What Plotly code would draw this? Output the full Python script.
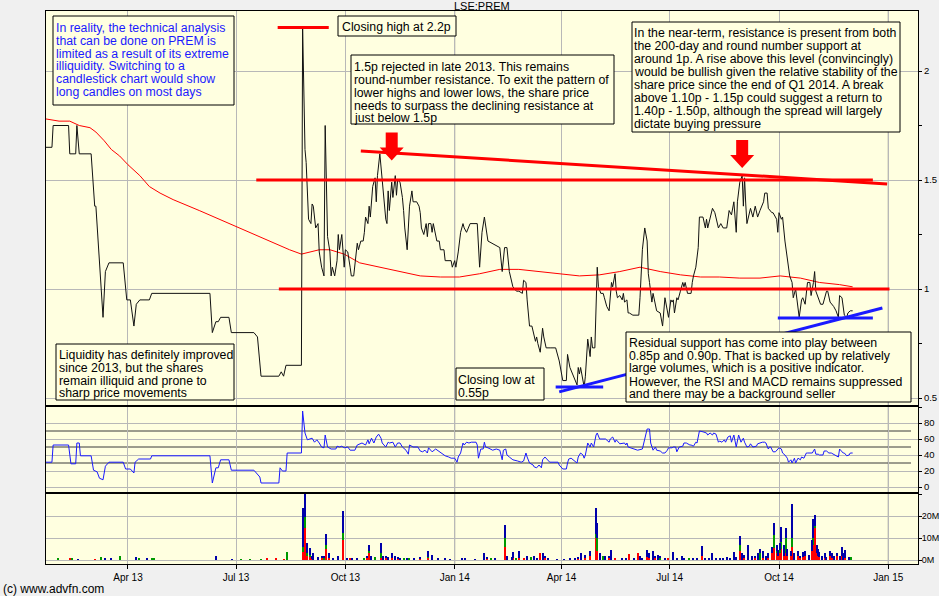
import plotly.graph_objects as go

# ---------------- data ----------------
price = [
    ("2013-01-22", 1.65), ("2013-01-27", 1.65), ("2013-01-28", 1.75), ("2013-02-10", 1.75), ("2013-02-11", 1.62),
    ("2013-02-16", 1.62), ("2013-02-17", 1.75), ("2013-02-19", 1.62), ("2013-03-01", 1.62), ("2013-03-04", 1.38),
    ("2013-03-05", 1.38), ("2013-03-09", 1.00), ("2013-03-11", 0.87), ("2013-03-13", 1.08), ("2013-03-16", 1.12),
    ("2013-03-28", 1.12), ("2013-03-31", 0.95), ("2013-04-03", 0.95), ("2013-04-06", 0.83), ("2013-04-08", 0.93),
    ("2013-04-11", 0.95), ("2013-04-19", 0.95), ("2013-04-21", 0.98), ("2013-06-09", 0.98), ("2013-06-11", 0.80),
    ("2013-06-14", 0.85), ("2013-06-16", 0.85), ("2013-06-18", 0.87), ("2013-06-25", 0.87), ("2013-06-27", 0.80),
    ("2013-07-16", 0.80), ("2013-07-19", 0.78), ("2013-07-22", 0.60), ("2013-08-06", 0.60), ("2013-08-08", 0.62),
    ("2013-08-10", 0.60), ("2013-08-12", 0.65), ("2013-08-25", 0.65), ("2013-08-26", 2.20), ("2013-08-28", 1.64),
    ("2013-08-29", 1.58), ("2013-08-31", 1.32), ("2013-09-02", 1.30), ("2013-09-03", 1.39), ("2013-09-04", 1.38),
    ("2013-09-06", 1.28), ("2013-09-08", 1.30), ("2013-09-09", 1.17), ("2013-09-11", 1.10), ("2013-09-13", 1.06),
    ("2013-09-14", 1.75), ("2013-09-16", 1.24), ("2013-09-18", 1.17), ("2013-09-19", 1.06), ("2013-09-20", 1.10),
    ("2013-09-22", 1.06), ("2013-09-24", 1.13), ("2013-09-25", 1.25), ("2013-09-26", 1.18), ("2013-09-28", 1.25),
    ("2013-09-29", 1.17), ("2013-09-30", 1.10), ("2013-10-01", 1.18), ("2013-10-03", 1.17), ("2013-10-05", 1.10),
    ("2013-10-06", 1.06), ("2013-10-08", 1.06), ("2013-10-10", 1.15), ("2013-10-11", 1.21), ("2013-10-12", 1.18),
    ("2013-10-14", 1.22), ("2013-10-16", 1.22), ("2013-10-17", 1.26), ("2013-10-18", 1.33), ("2013-10-20", 1.30),
    ("2013-10-21", 1.38), ("2013-10-22", 1.33), ("2013-10-24", 1.47), ("2013-10-26", 1.51), ("2013-10-27", 1.40),
    ("2013-10-28", 1.52), ("2013-10-30", 1.62), ("2013-10-31", 1.56), ("2013-11-01", 1.50), ("2013-11-02", 1.44),
    ("2013-11-04", 1.32), ("2013-11-05", 1.30), ("2013-11-06", 1.45), ("2013-11-07", 1.36), ("2013-11-09", 1.49),
    ("2013-11-10", 1.42), ("2013-11-12", 1.52), ("2013-11-13", 1.43), ("2013-11-14", 1.50), ("2013-11-16", 1.49),
    ("2013-11-18", 1.42), ("2013-11-19", 1.36), ("2013-11-20", 1.28), ("2013-11-22", 1.18), ("2013-11-23", 1.30),
    ("2013-11-24", 1.38), ("2013-11-26", 1.45), ("2013-11-27", 1.40), ("2013-11-30", 1.40), ("2013-12-02", 1.38),
    ("2013-12-03", 1.35), ("2013-12-04", 1.28), ("2013-12-06", 1.25), ("2013-12-08", 1.30), ("2013-12-09", 1.24),
    ("2013-12-10", 1.30), ("2013-12-12", 1.30), ("2013-12-13", 1.26), ("2013-12-14", 1.30), ("2013-12-16", 1.24),
    ("2013-12-17", 1.22), ("2013-12-19", 1.22), ("2013-12-20", 1.18), ("2013-12-23", 1.18), ("2013-12-24", 1.13),
    ("2013-12-29", 1.13), ("2013-12-30", 1.10), ("2014-01-01", 1.13), ("2014-01-02", 1.10), ("2014-01-04", 1.17),
    ("2014-01-06", 1.26), ("2014-01-08", 1.30), ("2014-01-09", 1.28), ("2014-01-11", 1.26), ("2014-01-14", 1.30),
    ("2014-01-20", 1.30), ("2014-01-22", 1.10), ("2014-01-24", 1.26), ("2014-01-26", 1.33), ("2014-01-29", 1.22),
    ("2014-02-01", 1.21), ("2014-02-05", 1.20), ("2014-02-08", 1.19), ("2014-02-10", 1.08), ("2014-02-12", 1.19),
    ("2014-02-14", 1.19), ("2014-02-16", 1.08), ("2014-02-19", 1.01), ("2014-02-22", 0.99), ("2014-02-24", 0.99),
    ("2014-02-27", 0.98), ("2014-02-28", 1.04), ("2014-03-02", 1.03), ("2014-03-03", 0.95), ("2014-03-04", 0.89),
    ("2014-03-05", 0.83), ("2014-03-07", 0.83), ("2014-03-09", 0.78), ("2014-03-10", 0.76), ("2014-03-11", 0.78),
    ("2014-03-12", 0.75), ("2014-03-14", 0.71), ("2014-03-15", 0.78), ("2014-03-16", 0.82), ("2014-03-17", 0.78),
    ("2014-03-19", 0.73), ("2014-03-23", 0.73), ("2014-03-27", 0.73), ("2014-03-30", 0.67), ("2014-03-31", 0.64),
    ("2014-04-02", 0.58), ("2014-04-05", 0.58), ("2014-04-06", 0.70), ("2014-04-08", 0.64), ("2014-04-10", 0.61),
    ("2014-04-12", 0.59), ("2014-04-14", 0.56), ("2014-04-15", 0.64), ("2014-04-16", 0.61), ("2014-04-17", 0.64),
    ("2014-04-19", 0.57), ("2014-04-20", 0.55), ("2014-04-21", 0.60), ("2014-04-22", 0.67), ("2014-04-23", 0.77),
    ("2014-04-25", 0.69), ("2014-04-26", 0.78), ("2014-04-27", 0.73), ("2014-04-29", 0.73), ("2014-05-01", 1.10),
    ("2014-05-02", 1.01), ("2014-05-04", 0.98), ("2014-05-06", 0.98), ("2014-05-07", 0.96), ("2014-05-09", 0.92),
    ("2014-05-11", 0.90), ("2014-05-12", 0.96), ("2014-05-13", 1.03), ("2014-05-14", 1.01), ("2014-05-16", 1.07),
    ("2014-05-17", 0.99), ("2014-05-18", 0.96), ("2014-05-20", 0.97), ("2014-05-22", 0.95), ("2014-05-23", 0.98),
    ("2014-05-24", 0.94), ("2014-05-26", 0.95), ("2014-05-27", 0.89), ("2014-05-28", 0.89), ("2014-05-31", 0.88),
    ("2014-06-05", 0.88), ("2014-06-06", 0.96), ("2014-06-08", 1.18), ("2014-06-10", 1.28), ("2014-06-12", 1.22),
    ("2014-06-13", 1.07), ("2014-06-14", 1.03), ("2014-06-16", 0.94), ("2014-06-17", 0.98), ("2014-06-19", 0.92),
    ("2014-06-20", 0.90), ("2014-06-23", 0.89), ("2014-06-24", 0.86), ("2014-06-25", 0.83), ("2014-06-27", 0.96),
    ("2014-06-29", 0.90), ("2014-06-30", 0.87), ("2014-07-02", 0.95), ("2014-07-03", 0.94), ("2014-07-04", 0.95),
    ("2014-07-05", 0.89), ("2014-07-07", 0.96), ("2014-07-08", 0.95), ("2014-07-10", 0.99), ("2014-07-12", 1.03),
    ("2014-07-13", 1.01), ("2014-07-14", 1.03), ("2014-07-16", 0.98), ("2014-07-19", 0.98), ("2014-07-20", 1.03),
    ("2014-07-21", 1.06), ("2014-07-23", 1.10), ("2014-07-25", 1.19), ("2014-07-26", 1.33), ("2014-07-29", 1.33),
    ("2014-07-31", 1.28), ("2014-08-01", 1.32), ("2014-08-02", 1.28), ("2014-08-06", 1.37), ("2014-08-08", 1.35),
    ("2014-08-11", 1.28), ("2014-08-13", 1.30), ("2014-08-15", 1.28), ("2014-08-18", 1.28), ("2014-08-20", 1.36),
    ("2014-08-22", 1.34), ("2014-08-24", 1.40), ("2014-08-26", 1.26), ("2014-08-27", 1.40), ("2014-08-29", 1.49),
    ("2014-08-31", 1.52), ("2014-09-01", 1.38), ("2014-09-02", 1.51), ("2014-09-03", 1.39), ("2014-09-04", 1.30),
    ("2014-09-07", 1.37), ("2014-09-09", 1.33), ("2014-09-11", 1.38), ("2014-09-13", 1.33), ("2014-09-15", 1.36),
    ("2014-09-18", 1.40), ("2014-09-19", 1.44), ("2014-09-21", 1.44), ("2014-09-22", 1.37), ("2014-09-25", 1.35),
    ("2014-09-26", 1.35), ("2014-09-29", 1.32), ("2014-09-30", 1.26), ("2014-10-01", 1.35), ("2014-10-03", 1.32),
    ("2014-10-04", 1.33), ("2014-10-06", 1.22), ("2014-10-08", 1.15), ("2014-10-10", 1.06), ("2014-10-12", 1.03),
    ("2014-10-13", 0.96), ("2014-10-15", 1.00), ("2014-10-16", 0.96), ("2014-10-18", 0.87), ("2014-10-20", 0.95),
    ("2014-10-21", 0.96), ("2014-10-23", 0.93), ("2014-10-25", 1.03), ("2014-10-27", 1.03), ("2014-10-28", 0.97),
    ("2014-10-30", 1.03), ("2014-10-31", 1.08), ("2014-11-01", 0.99), ("2014-11-03", 0.96), ("2014-11-05", 0.93),
    ("2014-11-07", 0.93), ("2014-11-10", 0.99), ("2014-11-11", 0.99), ("2014-11-13", 0.94), ("2014-11-16", 0.92),
    ("2014-11-18", 0.90), ("2014-11-20", 0.87), ("2014-11-21", 0.97), ("2014-11-23", 0.96), ("2014-11-25", 0.88),
    ("2014-11-27", 0.87), ("2014-11-28", 0.89), ("2014-11-30", 0.90), ("2014-12-02", 0.90),
]

sma_dates = ["2013-01-22", "2013-02-02", "2013-02-11", "2013-02-19", "2013-02-28", "2013-03-05", "2013-03-12",
             "2013-03-18", "2013-03-25", "2013-04-01", "2013-04-11", "2013-04-19", "2013-04-28", "2013-05-09",
             "2013-05-31", "2013-06-17", "2013-06-29", "2013-07-12", "2013-07-29", "2013-08-15", "2013-08-25",
             "2013-09-01", "2013-09-09", "2013-09-18", "2013-09-30", "2013-10-13", "2013-10-30", "2013-11-16",
             "2013-12-03", "2013-12-20", "2014-01-05", "2014-01-22", "2014-02-08", "2014-02-24", "2014-03-14",
             "2014-03-30", "2014-04-16", "2014-05-03", "2014-05-20", "2014-06-06", "2014-06-23", "2014-07-10",
             "2014-07-27", "2014-08-12", "2014-08-29", "2014-09-15", "2014-10-02", "2014-10-19", "2014-11-04",
             "2014-11-21", "2014-12-02"]
sma_values = [1.78, 1.77, 1.77, 1.75, 1.74, 1.72, 1.68, 1.64, 1.61, 1.57, 1.52, 1.47, 1.44, 1.41, 1.36, 1.32,
              1.29, 1.26, 1.22, 1.18, 1.16, 1.17, 1.18, 1.18, 1.16, 1.12, 1.10, 1.08, 1.06, 1.055, 1.055, 1.07,
              1.09, 1.09, 1.08, 1.07, 1.06, 1.065, 1.08, 1.10, 1.08, 1.065, 1.055, 1.055, 1.05, 1.05, 1.06, 1.05,
              1.03, 1.02, 1.01]

rsi = [
    ("2013-01-22", 31), ("2013-01-27", 31), ("2013-01-28", 52.5), ("2013-02-10", 52.5), ("2013-02-12", 29),
    ("2013-02-16", 29), ("2013-02-17", 55), ("2013-02-19", 55), ("2013-02-20", 39), ("2013-03-01", 39),
    ("2013-03-03", 21), ("2013-03-06", 19), ("2013-03-08", 11), ("2013-03-11", 9), ("2013-03-13", 26),
    ("2013-03-16", 31), ("2013-03-28", 31), ("2013-03-30", 22.5), ("2013-04-03", 22.5), ("2013-04-06", 17.5),
    ("2013-04-07", 31), ("2013-04-10", 35), ("2013-04-20", 35), ("2013-04-21", 39), ("2013-06-09", 39),
    ("2013-06-11", 5), ("2013-06-14", 24), ("2013-06-16", 24), ("2013-06-18", 34), ("2013-06-25", 34),
    ("2013-06-27", 21), ("2013-07-16", 21), ("2013-07-21", 12.5), ("2013-07-22", 5), ("2013-08-06", 5),
    ("2013-08-07", 24), ("2013-08-09", 20), ("2013-08-12", 20), ("2013-08-13", 42.5), ("2013-08-25", 42.5),
    ("2013-08-26", 95), ("2013-08-28", 67.5), ("2013-08-30", 59), ("2013-09-03", 61), ("2013-09-05", 56),
    ("2013-09-07", 59), ("2013-09-09", 55), ("2013-09-11", 50), ("2013-09-13", 49), ("2013-09-14", 65),
    ("2013-09-16", 50), ("2013-09-19", 47.5), ("2013-09-23", 47.5), ("2013-09-24", 51), ("2013-09-26", 50),
    ("2013-09-28", 51), ("2013-09-30", 49), ("2013-10-03", 50), ("2013-10-05", 46), ("2013-10-09", 46),
    ("2013-10-11", 52.5), ("2013-10-13", 54), ("2013-10-15", 55), ("2013-10-18", 52.5), ("2013-10-20", 59),
    ("2013-10-21", 54), ("2013-10-23", 61), ("2013-10-25", 55), ("2013-10-27", 62.5), ("2013-10-29", 66),
    ("2013-10-31", 61), ("2013-11-01", 55), ("2013-11-04", 50), ("2013-11-06", 56), ("2013-11-07", 55),
    ("2013-11-10", 56), ("2013-11-12", 50), ("2013-11-14", 55), ("2013-11-16", 55), ("2013-11-18", 50),
    ("2013-11-21", 46), ("2013-11-23", 41), ("2013-11-24", 52.5), ("2013-11-27", 50), ("2013-12-01", 50),
    ("2013-12-03", 45), ("2013-12-05", 44), ("2013-12-07", 46), ("2013-12-09", 42.5), ("2013-12-10", 49),
    ("2013-12-13", 44), ("2013-12-16", 47.5), ("2013-12-19", 44), ("2013-12-20", 42.5), ("2013-12-22", 41),
    ("2013-12-24", 39), ("2013-12-27", 37.5), ("2013-12-29", 36), ("2014-01-01", 36), ("2014-01-03", 31),
    ("2014-01-04", 37.5), ("2014-01-06", 42.5), ("2014-01-08", 55), ("2014-01-09", 52.5), ("2014-01-11", 56),
    ("2014-01-13", 55), ("2014-01-15", 56), ("2014-01-19", 56), ("2014-01-20", 52.5), ("2014-01-21", 36),
    ("2014-01-23", 47.5), ("2014-01-25", 47.5), ("2014-01-26", 56), ("2014-01-27", 50), ("2014-01-29", 49),
    ("2014-02-02", 46), ("2014-02-05", 47.5), ("2014-02-08", 46), ("2014-02-10", 34), ("2014-02-11", 46),
    ("2014-02-13", 47.5), ("2014-02-14", 40), ("2014-02-16", 37.5), ("2014-02-19", 34), ("2014-02-23", 32.5),
    ("2014-02-26", 31), ("2014-02-28", 32.5), ("2014-03-02", 42.5), ("2014-03-03", 37.5), ("2014-03-05", 30),
    ("2014-03-08", 27.5), ("2014-03-09", 25), ("2014-03-11", 24), ("2014-03-13", 27.5), ("2014-03-15", 24),
    ("2014-03-16", 34), ("2014-03-18", 37.5), ("2014-03-20", 34), ("2014-03-22", 31), ("2014-03-29", 31),
    ("2014-03-30", 27.5), ("2014-04-02", 22.5), ("2014-04-05", 22.5), ("2014-04-06", 30), ("2014-04-07", 35),
    ("2014-04-09", 36), ("2014-04-12", 32.5), ("2014-04-14", 30), ("2014-04-15", 37.5), ("2014-04-17", 42.5),
    ("2014-04-19", 40), ("2014-04-20", 36), ("2014-04-21", 40), ("2014-04-23", 55), ("2014-04-25", 50),
    ("2014-04-26", 55), ("2014-04-28", 50), ("2014-04-30", 65), ("2014-05-01", 67.5), ("2014-05-03", 60),
    ("2014-05-08", 60), ("2014-05-11", 56), ("2014-05-12", 60), ("2014-05-14", 62.5), ("2014-05-16", 56),
    ("2014-05-17", 59), ("2014-05-20", 54), ("2014-05-24", 55), ("2014-05-25", 52.5), ("2014-05-26", 55),
    ("2014-05-27", 50), ("2014-06-01", 47.5), ("2014-06-04", 46), ("2014-06-08", 47.5), ("2014-06-10", 60),
    ("2014-06-12", 72.5), ("2014-06-14", 72.5), ("2014-06-15", 55), ("2014-06-17", 46), ("2014-06-19", 50),
    ("2014-06-20", 46), ("2014-06-23", 45), ("2014-06-25", 42.5), ("2014-06-27", 42.5), ("2014-06-29", 46),
    ("2014-06-30", 49), ("2014-07-03", 49), ("2014-07-04", 50), ("2014-07-06", 50), ("2014-07-07", 44),
    ("2014-07-09", 50), ("2014-07-12", 51), ("2014-07-13", 55), ("2014-07-15", 55), ("2014-07-18", 52.5),
    ("2014-07-19", 52.5), ("2014-07-21", 51), ("2014-07-23", 56), ("2014-07-24", 55), ("2014-07-26", 70),
    ("2014-07-29", 69), ("2014-07-31", 67.5), ("2014-08-01", 67.5), ("2014-08-02", 65), ("2014-08-04", 67.5),
    ("2014-08-06", 65), ("2014-08-07", 67.5), ("2014-08-09", 66), ("2014-08-11", 56), ("2014-08-12", 57.5),
    ("2014-08-14", 56), ("2014-08-16", 59), ("2014-08-17", 56), ("2014-08-19", 62.5), ("2014-08-21", 64),
    ("2014-08-22", 56), ("2014-08-24", 65), ("2014-08-26", 50), ("2014-08-28", 65), ("2014-08-30", 56),
    ("2014-09-01", 61), ("2014-09-02", 56), ("2014-09-04", 50), ("2014-09-06", 51), ("2014-09-07", 54),
    ("2014-09-09", 50), ("2014-09-12", 51), ("2014-09-13", 54), ("2014-09-15", 55), ("2014-09-17", 56),
    ("2014-09-19", 56), ("2014-09-20", 55), ("2014-09-22", 47.5), ("2014-09-23", 50), ("2014-09-24", 50),
    ("2014-09-26", 44), ("2014-09-28", 44), ("2014-09-30", 47.5), ("2014-10-01", 49), ("2014-10-03", 47.5),
    ("2014-10-04", 42.5), ("2014-10-06", 40), ("2014-10-08", 36), ("2014-10-09", 31), ("2014-10-11", 34),
    ("2014-10-12", 30), ("2014-10-14", 36), ("2014-10-15", 30), ("2014-10-17", 36), ("2014-10-19", 34),
    ("2014-10-20", 37.5), ("2014-10-22", 36), ("2014-10-24", 42.5), ("2014-10-25", 42.5), ("2014-10-27", 42.5),
    ("2014-10-29", 42.5), ("2014-10-31", 47.5), ("2014-11-01", 41), ("2014-11-03", 41), ("2014-11-04", 40),
    ("2014-11-07", 40), ("2014-11-08", 45), ("2014-11-10", 45), ("2014-11-12", 42.5), ("2014-11-14", 42.5),
    ("2014-11-16", 41), ("2014-11-18", 40), ("2014-11-20", 37.5), ("2014-11-21", 47.5), ("2014-11-22", 46),
    ("2014-11-24", 42.5), ("2014-11-25", 42.5), ("2014-11-27", 39), ("2014-11-29", 40), ("2014-11-30", 42.5),
    ("2014-12-02", 42.5),
]

# volume in millions: (date, sells, buys, other)
volume = [
    ("2013-02-01", 0, 0.8, 0), ("2013-02-11", 0.8, 0, 0), ("2013-02-13", 0, 0.8, 0), ("2013-02-18", 0, 0, 0.4),
    ("2013-03-04", 0.4, 0, 0), ("2013-03-09", 0, 1.5, 0), ("2013-03-13", 0, 0, 1.0), ("2013-03-18", 0, 0, 0.5),
    ("2013-03-25", 0, 2.0, 0), ("2013-04-08", 0, 0, 1.5), ("2013-04-10", 0, 0.6, 0), ("2013-04-17", 0, 0, 1.0),
    ("2013-04-21", 0, 0.5, 0), ("2013-04-23", 0, 0.5, 0), ("2013-06-14", 0, 0, 2.0), ("2013-06-28", 0, 0, 0.3),
    ("2013-07-05", 0, 0.3, 0), ("2013-07-13", 0, 0.3, 0), ("2013-07-22", 0, 0.4, 0), ("2013-07-27", 1.0, 0, 0),
    ("2013-08-04", 0.5, 0, 0), ("2013-08-10", 0.4, 0, 0), ("2013-08-13", 0, 3.5, 0), ("2013-08-26", 3.6, 2.4, 17.6),
    ("2013-08-28", 14.5, 5.0, 10.5), ("2013-08-30", 2.0, 1.0, 4.7), ("2013-09-01", 1.5, 1.0, 3.0),
    ("2013-09-03", 0.5, 0, 1.5), ("2013-09-04", 0, 0, 3.0), ("2013-09-08", 0, 0, 1.5), ("2013-09-11", 1.0, 0, 1.0),
    ("2013-09-13", 0, 1.0, 1.0), ("2013-09-15", 5.0, 2.0, 4.8), ("2013-09-17", 1.0, 0, 2.0), ("2013-09-21", 0, 0, 1.0),
    ("2013-09-25", 0, 0, 2.0), ("2013-09-29", 9.0, 3.3, 10.0), ("2013-10-02", 0, 0, 1.0), ("2013-10-05", 1.0, 0, 0),
    ("2013-10-07", 0, 0, 1.0), ("2013-10-11", 0, 0, 1.0), ("2013-10-17", 0, 1.0, 0), ("2013-10-19", 1.0, 0, 1.0),
    ("2013-10-21", 3.0, 1.0, 2.8), ("2013-10-23", 0, 0, 2.0), ("2013-10-26", 0, 1.5, 0), ("2013-10-31", 1.0, 2.0, 4.7),
    ("2013-11-02", 0, 0, 2.0), ("2013-11-04", 1.0, 0, 1.0), ("2013-11-06", 0, 0, 1.5), ("2013-11-09", 1.0, 0, 2.0),
    ("2013-11-12", 0, 0, 2.0), ("2013-11-14", 0.5, 0, 1.0), ("2013-11-16", 0, 0, 1.0), ("2013-11-19", 0, 1.0, 0),
    ("2013-11-22", 0, 0, 1.0), ("2013-11-24", 0, 0.5, 0), ("2013-11-28", 0, 0, 1.0), ("2013-12-03", 0.5, 0, 1.0),
    ("2013-12-10", 1.0, 0.5, 2.5), ("2013-12-13", 0, 0, 2.3), ("2013-12-18", 0, 0, 0.5), ("2013-12-24", 0, 0, 0.5),
    ("2013-12-28", 0, 0, 0.3), ("2014-01-07", 0, 0, 0.5), ("2014-01-10", 0, 0, 0.5), ("2014-01-18", 0, 0, 0.3),
    ("2014-01-26", 0, 0, 3.0), ("2014-01-28", 0.5, 0, 1.0), ("2014-02-01", 0, 0.5, 0), ("2014-02-04", 0, 0, 0.5),
    ("2014-02-12", 6.0, 4.0, 6.0), ("2014-02-14", 0, 0, 2.0), ("2014-02-18", 0, 0, 1.5), ("2014-02-19", 1.0, 0, 2.5),
    ("2014-02-22", 0, 1.0, 0), ("2014-02-24", 1.0, 0, 3.0), ("2014-02-28", 1.0, 0, 0), ("2014-03-03", 0, 0, 2.0),
    ("2014-03-06", 0, 1.5, 0), ("2014-03-09", 0, 0, 2.0), ("2014-03-11", 0, 0, 1.0), ("2014-03-14", 3.0, 0, 0),
    ("2014-03-16", 0, 0, 3.0), ("2014-03-18", 1.0, 0, 1.0), ("2014-03-21", 0, 0, 0.5), ("2014-03-28", 0, 0, 0.3),
    ("2014-04-03", 0, 0, 0.3), ("2014-04-08", 0, 0, 1.0), ("2014-04-12", 0, 0, 1.0), ("2014-04-15", 0.5, 0, 1.0),
    ("2014-04-17", 0, 0, 3.0), ("2014-04-21", 1.0, 0, 1.5), ("2014-04-25", 2.0, 0, 2.0), ("2014-04-30", 10.0, 2.0, 11.6),
    ("2014-05-01", 4.0, 6.0, 7.0), ("2014-05-03", 0, 0, 3.0), ("2014-05-06", 0, 2.0, 0), ("2014-05-08", 0, 0, 2.0),
    ("2014-05-11", 1.0, 0, 1.0), ("2014-05-13", 0, 0, 4.5), ("2014-05-16", 1.0, 0, 0), ("2014-05-22", 0, 0, 1.0),
    ("2014-05-25", 0, 0, 0.5), ("2014-05-28", 2.6, 0, 0), ("2014-06-01", 0, 0, 1.0), ("2014-06-04", 3.0, 0, 0),
    ("2014-06-06", 0, 0, 2.0), ("2014-06-08", 0, 0, 1.0), ("2014-06-12", 1.5, 0, 3.0), ("2014-06-14", 1.0, 0, 2.0),
    ("2014-06-17", 0, 0, 4.0), ("2014-06-19", 1.0, 0, 1.0), ("2014-06-21", 0, 0, 2.5), ("2014-06-23", 0, 1.0, 1.0),
    ("2014-06-27", 0, 0, 1.0), ("2014-06-30", 1.0, 0, 0), ("2014-07-04", 0, 0, 3.5), ("2014-07-07", 0, 0, 1.0),
    ("2014-07-11", 0, 0, 2.0), ("2014-07-13", 0, 0, 1.0), ("2014-07-17", 0, 1.0, 0), ("2014-07-21", 0, 0, 1.0),
    ("2014-07-24", 0, 0, 1.0), ("2014-07-28", 2.0, 0, 4.4), ("2014-07-31", 0, 0, 1.0), ("2014-08-03", 0, 0, 1.0),
    ("2014-08-06", 0, 0, 3.0), ("2014-08-09", 0, 0, 1.0), ("2014-08-12", 0, 0, 1.0), ("2014-08-15", 0, 0, 1.0),
    ("2014-08-18", 0, 0, 1.5), ("2014-08-21", 0, 0, 1.0), ("2014-08-24", 0, 0, 3.5), ("2014-08-26", 0, 0, 1.5),
    ("2014-08-29", 4.0, 3.0, 4.0), ("2014-08-31", 0, 0, 3.0), ("2014-09-02", 1.0, 0, 1.5), ("2014-09-05", 0, 0, 6.8),
    ("2014-09-08", 0, 0, 2.0), ("2014-09-11", 1.0, 0, 1.0), ("2014-09-13", 0, 0, 3.0), ("2014-09-15", 0, 3.0, 2.0),
    ("2014-09-18", 1.0, 0, 3.0), ("2014-09-20", 0, 0, 2.0), ("2014-09-22", 1.0, 0, 2.0), ("2014-09-25", 3.0, 0, 3.0),
    ("2014-09-27", 5.5, 6.0, 5.5), ("2014-09-29", 3.0, 1.0, 3.0), ("2014-09-30", 2.0, 0, 2.5), ("2014-10-02", 3.0, 1.7, 3.0),
    ("2014-10-03", 5.0, 3.0, 7.0), ("2014-10-05", 2.0, 0, 5.0), ("2014-10-07", 3.0, 7.0, 4.5), ("2014-10-08", 2.0, 0, 3.0),
    ("2014-10-11", 2.0, 0, 2.0), ("2014-10-12", 6.0, 4.0, 15.5), ("2014-10-14", 0, 0, 3.0), ("2014-10-17", 2.0, 0, 2.0),
    ("2014-10-19", 1.0, 0, 1.0), ("2014-10-21", 1.5, 0, 2.0), ("2014-10-23", 2.0, 0, 2.0), ("2014-10-26", 0, 0, 2.5),
    ("2014-10-29", 4.0, 0, 5.0), ("2014-10-30", 7.0, 3.0, 8.6), ("2014-10-31", 14.5, 1.0, 5.0), ("2014-11-02", 3.0, 0, 4.0),
    ("2014-11-03", 2.0, 0, 3.0), ("2014-11-04", 1.5, 0, 2.0), ("2014-11-06", 0, 0, 2.0), ("2014-11-09", 1.0, 0, 2.0),
    ("2014-11-10", 0, 0, 1.5), ("2014-11-13", 2.0, 0, 2.0), ("2014-11-15", 1.0, 0, 2.0), ("2014-11-16", 0, 0, 2.0),
    ("2014-11-19", 2.0, 0, 1.0), ("2014-11-21", 0, 0, 2.0), ("2014-11-23", 2.0, 0, 3.8), ("2014-11-24", 0, 0, 3.0),
    ("2014-11-25", 1.0, 0, 1.0), ("2014-11-26", 1.0, 0, 3.5), ("2014-11-29", 0, 0, 1.5), ("2014-12-01", 0, 1.5, 0),
]

quarter_ticks = ["2013-04-01", "2013-07-01", "2013-10-01", "2014-01-01",
                 "2014-04-01", "2014-07-01", "2014-10-01", "2015-01-01"]
quarter_labels = ["Apr 13", "Jul 13", "Oct 13", "Jan 14", "Apr 14", "Jul 14", "Oct 14", "Jan 15"]
year_marks = ["2014-01-01", "2015-01-01"]
x_range = ["2013-01-22", "2015-01-26"]

price_ticks = [0.5, 1, 1.5, 2]
price_tick_labels = ["0.5", "1", "1.5", "2"]
rsi_ticks = [0, 20, 40, 60, 80, 100]
rsi_tick_labels = ["0", "20", "40", "60", "80", ""]
rsi_levels = [30, 50, 70]
vol_ticks = [0, 10, 20, 30]
vol_tick_labels = ["0M", "10M", "20M", ""]

# analyst trend lines (date, price) -> (date, price)
resistance_lines = [
    ("2013-08-05", 2.2, "2013-09-17", 2.2),
    ("2013-07-18", 1.5, "2014-12-19", 1.5),
    ("2013-08-06", 1.0, "2015-01-02", 1.0),
    ("2013-10-14", 1.633, "2014-12-31", 1.482),
]
support_lines = [
    ("2014-03-27", 0.55, "2014-05-06", 0.55),
    ("2014-03-30", 0.528, "2014-12-27", 0.913),
    ("2014-09-30", 0.867, "2014-12-19", 0.867),
]
arrow_tips = [("2013-11-09", 1.59), ("2014-08-31", 1.555)]

price_dates = [d for d, _ in price]
price_close = [v for _, v in price]
rsi_dates = [d for d, _ in rsi]
rsi_values = [v for _, v in rsi]
vol_dates = [r[0] for r in volume]
vol_sell = [r[1] for r in volume]
vol_buy = [r[2] for r in volume]
vol_other = [r[3] for r in volume]

# ---------------- layout helpers (pixel -> paper) ----------------
L, R, T, B = 46, 918, 11, 564
def pxx(x):
    return (x - L) / (R - L)
def pxy(y):
    return (B - y) / (B - T)

FONT = "Liberation Sans, Arial, sans-serif"
GRID = "#b8b8b8"
BG = "#ffffe0"

fig = go.Figure()
fig.add_trace(go.Scatter(x=sma_dates, y=sma_values, mode="lines", line=dict(color="#ff0000", width=1),
                         xaxis="x", yaxis="y", hoverinfo="skip"))
fig.add_trace(go.Scatter(x=price_dates, y=price_close, mode="lines", line=dict(color="#111111", width=1),
                         xaxis="x", yaxis="y"))
fig.add_trace(go.Scatter(x=rsi_dates, y=rsi_values, mode="lines", line=dict(color="#1a1aff", width=1),
                         xaxis="x2", yaxis="y2"))
bar_w = 86400000 * 0.95
for vals, col in [(vol_sell, "#ff0000"), (vol_buy, "#009900"), (vol_other, "#0000aa")]:
    fig.add_trace(go.Bar(x=vol_dates, y=vals, marker=dict(color=col, line=dict(width=0)), width=bar_w,
                         xaxis="x3", yaxis="y3"))

common_x = dict(type="date", range=x_range, autorange=False, tickvals=quarter_ticks, ticktext=quarter_labels,
                showgrid=True, gridcolor=GRID, gridwidth=1, showline=True, linecolor="black",
                linewidth=1, mirror=True, zeroline=False, automargin=False)
common_y = dict(side="right", showgrid=True, gridcolor=GRID, gridwidth=1, showline=True, autorange=False,
                linecolor="black", linewidth=1, mirror=True, zeroline=False, ticks="outside", automargin=False,
                ticklen=3, tickcolor="black", tickfont=dict(size=9.5, color="black", family=FONT))

fig.update_layout(
    width=939, height=596, autosize=False,
    margin=dict(l=L, r=939 - R, t=T, b=596 - B, pad=0, autoexpand=False),
    paper_bgcolor="#f0f0f0", plot_bgcolor=BG,
    showlegend=False, barmode="stack", bargap=0,
    font=dict(family=FONT, size=10, color="black"),
    xaxis=dict(common_x, domain=[0, 1], anchor="y", showticklabels=False, ticks=""),
    xaxis2=dict(common_x, domain=[0, 1], anchor="y2", matches="x", showticklabels=False, ticks=""),
    xaxis3=dict(common_x, domain=[0, 1], anchor="y3", matches="x", showticklabels=True, ticks="outside",
                ticklen=4, tickcolor="black", tickfont=dict(size=10, color="black", family=FONT)),
    yaxis=dict(common_y, domain=[pxy(405), 1], anchor="x", range=[(507 - 405) / 218, (507 - 11) / 218],
               tickvals=price_ticks, ticktext=price_tick_labels,
               minor=dict(tickvals=[0.75, 1.25, 1.75], ticks="outside", ticklen=3, tickcolor="black",
                          showgrid=False)),
    yaxis2=dict(common_y, domain=[pxy(492), pxy(407)], anchor="x2", range=[-6.25, 100],
                tickvals=rsi_ticks, ticktext=rsi_tick_labels),
    yaxis3=dict(common_y, domain=[0, pxy(494)], anchor="x3", range=[-1.82, 30],
                tickvals=vol_ticks, ticktext=vol_tick_labels, ticklabelstandoff=-2,
                tickfont=dict(size=9, color="black", family=FONT)),
)

shapes = []
for ym in year_marks:
    for xr, yr in [("x", "y domain"), ("x2", "y2 domain"), ("x3", "y3 domain")]:
        shapes.append(dict(type="line", xref=xr, yref=yr, x0=ym, x1=ym, y0=0, y1=1,
                           line=dict(color="#7a7a7a", width=1), layer="below"))
for lv in rsi_levels:
    shapes.append(dict(type="line", xref="x2 domain", yref="y2", x0=0, x1=pxx(911), y0=lv, y1=lv,
                       line=dict(color="#3a3a3a", width=1), layer="below"))
for x0, y0, x1, y1 in resistance_lines:
    shapes.append(dict(type="line", xref="x", yref="y", x0=x0, y0=y0, x1=x1, y1=y1,
                       line=dict(color="#ff0000", width=3), layer="above"))
for x0, y0, x1, y1 in support_lines:
    shapes.append(dict(type="line", xref="x", yref="y", x0=x0, y0=y0, x1=x1, y1=y1,
                       line=dict(color="#1a1aff", width=3), layer="above"))

boxes = [
    dict(box=(53, 16, 234, 105), x=56, ys=[28, 41, 54, 66, 79, 92], color="#1a1aff",
         lines=["In reality, the technical analysis", "that can be done on PREM is",
                "limited as a result of its extreme", "illiquidity. Switching to a",
                "candlestick chart would show", "long candles on most days"]),
    dict(box=(338, 16, 456, 36), x=342, ys=[27], color="black", lines=["Closing high at 2.2p"]),
    dict(box=(351, 55, 614, 124), x=354, ys=[67, 80, 93, 106, 118], color="black",
         lines=["1.5p rejected in late 2013. This remains", "round-number resistance. To exit the pattern of",
                "lower highs and lower lows, the share price", "needs to surpass the declining resistance at",
                "just below 1.5p"]),
    dict(box=(632, 22, 900, 132), x=634, ys=[33, 46, 59, 72, 85, 98, 111, 124], color="black",
         lines=["In the near-term, resistance is present from both", "the 200-day and round number support at",
                "around 1p. A rise above this level (convincingly)",
                "would be bullish given the relative stability of the",
                "share price since the end of Q1 2014. A break", "above 1.10p - 1.15p could suggest a return to",
                "1.40p - 1.50p, although the spread will largely", "dictate buying pressure"]),
    dict(box=(56, 344, 234, 400), x=59, ys=[355, 368, 381, 393], color="black",
         lines=["Liquidity has definitely improved", "since 2013, but the shares",
                "remain illiquid and prone to", "sharp price movements"]),
    dict(box=(456, 368, 544, 400), x=458, ys=[380, 393], color="black", lines=["Closing low at", "0.55p"]),
    dict(box=(626, 332, 911, 402), x=629, ys=[343, 356, 368, 382, 394], color="black",
         lines=["Residual support has come into play between", "0.85p and 0.90p. That is backed up by relatively",
                "large volumes, which is a positive indicator.", "However, the RSI and MACD remains suppressed",
                "and there may be a background seller"]),
]

annotations = []
for b in boxes:
    x0, y0, x1, y1 = b["box"]
    shapes.append(dict(type="rect", xref="paper", yref="paper", x0=pxx(x0), x1=pxx(x1), y0=pxy(y1), y1=pxy(y0),
                       fillcolor=BG, line=dict(color="black", width=1), layer="above"))
    for txt, yy in zip(b["lines"], b["ys"]):
        annotations.append(dict(text=txt, xref="paper", yref="paper", x=pxx(b["x"] - 1), y=pxy(yy),
                                xanchor="left", yanchor="middle", showarrow=False, borderpad=0,
                                font=dict(family=FONT, size=12.3, color=b["color"])))

arrow_path = "M -6 28 L 6 28 L 6 13 L 12 13 L 0 0 L -12 13 L -6 13 Z"
for ax, ay in arrow_tips:
    shapes.append(dict(type="path", xref="x", yref="y", xsizemode="pixel", ysizemode="pixel",
                       xanchor=ax, yanchor=ay, path=arrow_path, fillcolor="#ff0000",
                       line=dict(width=0), layer="above"))

annotations.append(dict(text="LSE:PREM", xref="paper", yref="paper", x=0.5, y=pxy(6), xanchor="center",
                        yanchor="middle", showarrow=False, font=dict(family=FONT, size=11, color="black")))
annotations.append(dict(text="(c) www.advfn.com", xref="paper", yref="paper", x=pxx(1), y=pxy(589),
                        xanchor="left", yanchor="middle", showarrow=False,
                        font=dict(family=FONT, size=12, color="black")))

fig.update_layout(shapes=shapes, annotations=annotations)
fig.write_html("out.html")
